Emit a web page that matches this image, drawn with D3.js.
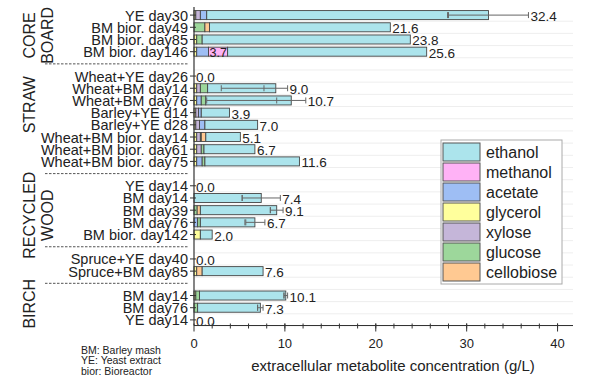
<!DOCTYPE html>
<html>
<head>
<meta charset="utf-8">
<title>Metabolite concentration</title>
<style>
  body { margin:0; background:#fff; }
  svg text { font-family: "Liberation Sans", Arial, sans-serif; fill:#222; }
</style>
</head>
<body>
<svg id="chart" width="592" height="388"></svg>
<script src="https://d3js.org/d3.v7.min.js"></script>
<script>
// categories, top to bottom
var categories = ["YE day30","BM bior. day49","BM bior. day85","BM bior. day146",
  "Wheat+YE day26","Wheat+BM day14","Wheat+BM day76","Barley+YE d14","Barley+YE d28",
  "Wheat+BM bior. day14","Wheat+BM bior. day61","Wheat+BM bior. day75",
  "YE day14","BM day14","BM day39","BM day76","BM bior. day142",
  "Spruce+YE day40","Spruce+BM day85",
  "BM day14","BM day76","YE day14"];
var groupSizes = [4, 8, 5, 2, 3];
var groupNames = [["CORE","BOARD"], ["STRAW"], ["RECYCLED","WOOD"], [], ["BIRCH"]];

// g/L
var glycerol   = [0.2,0,0.3,0.3, 0,0.3,0.3,0.2,0.2,0.3,0.3,0.3, 0,0,0,0,0.7, 0,0.3, 0.2,0,0];
var xylose     = [0.5,0,0,0, 0,0.4,0,0.3,0.4,0.4,0.5,0, 0,0,0,0,0, 0,0, 0,0,0];
var acetate    = [0.7,0,0,1.3, 0,0,0.5,0.3,0.6,0,0,0.6, 0,0,0,0.4,0, 0,0, 0,0,0];
var glucose    = [0,1.2,0.6,0, 0,0.8,0.5,0,0,0.1,0.3,0.3, 0,0,0.35,0.3,0, 0,0, 0.4,0.4,0];
var cellobiose = [0,0.5,0,0, 0,0,0,0,0,0.5,0,0, 0,0,0.35,0,0, 0,0.6, 0,0,0];
var methanol   = [0,0,0,2.1, 0,0,0,0,0,0,0,0, 0,0,0,0,0, 0,0, 0,0,0];
var ethanol    = [31.0,19.9,22.9,21.9, 0,7.5,9.4,3.1,5.8,3.8,5.6,10.4, 0,7.4,8.4,6.0,1.3, 0,6.7, 9.5,6.9,0];
var valueLabels = ["32.4","21.6","23.8","25.6","0.0","9.0","10.7","3.9","7.0","5.1","6.7","11.6",
  "0.0","7.4","9.1","6.7","2.0","0.0","7.6","10.1","7.3","0.0"];
var errLo = [27.9,null,null,null, null,3.0,1.4,null,null,null,null,null, null,5.3,8.4,5.7,null, null,null, 9.9,7.0,null];
var errHi = [36.8,null,null,null, null,10.3,12.3,null,null,null,null,null, null,9.5,9.8,7.8,null, null,null, 10.3,7.6,null];
var innerLabelRow = 3, innerLabel = "3.7";

var legendNames = ["ethanol","methanol","acetate","glycerol","xylose","glucose","cellobiose"];
var colors = {ethanol:"#ace4ec", methanol:"#ffb2f6", acetate:"#9ebef4", glycerol:"#ffff9c",
  xylose:"#c5b6d9", glucose:"#9dd79b", cellobiose:"#ffc992"};
var stackKeys = ["glycerol","xylose","acetate","glucose","cellobiose","methanol","ethanol"];
var xTicks = [0,10,20,30,40];

var svg = d3.select("#chart");
var x0 = 194, x1 = 573;

// build slots (rows + separator slots between groups)
var slots = [], rowSlot = [], sepSlots = [], groupRange = [];
var k = 0;
groupSizes.forEach(function(n, g) {
  if (g > 0) { sepSlots.push("sep" + g); slots.push("sep" + g); }
  var start = slots.length;
  for (var i = 0; i < n; i++) { rowSlot.push("r" + k); slots.push("r" + k); k++; }
  groupRange.push([start, slots.length - 1]);
});

var y = d3.scaleBand().domain(slots).range([9, 326]).paddingInner(0.26).paddingOuter(0.13);
var x = d3.scaleLinear().domain([0, 41.7]).range([x0, x1]);
var bh = y.bandwidth();
var yc = function(s) { return y(s) + bh / 2; };

var rows = categories.map(function(c, i) {
  return {cat:c, slot:rowSlot[i], glycerol:glycerol[i], xylose:xylose[i], acetate:acetate[i],
    glucose:glucose[i], cellobiose:cellobiose[i], methanol:methanol[i], ethanol:ethanol[i]};
});

// faint grid lines
svg.append("g").selectAll("line").data(slots).enter().append("line")
  .attr("x1", x0).attr("x2", x1)
  .attr("y1", function(s){ return y(s) + bh + (y.step() - bh) / 2; })
  .attr("y2", function(s){ return y(s) + bh + (y.step() - bh) / 2; })
  .attr("stroke", "#eeeeee").attr("stroke-width", 1);

// stacked bars
var series = d3.stack().keys(stackKeys)(rows);
svg.append("g").selectAll("g").data(series).enter().append("g")
  .attr("fill", function(s){ return colors[s.key]; })
  .selectAll("rect").data(function(s){ return s; }).enter()
  .filter(function(d){ return d[1] - d[0] > 0; })
  .append("rect")
  .attr("x", function(d){ return x(d[0]); })
  .attr("y", function(d){ return y(d.data.slot); })
  .attr("width", function(d){ return x(d[1]) - x(d[0]); })
  .attr("height", bh)
  .attr("stroke", "#444").attr("stroke-width", 0.9);

// error bars
var eb = svg.append("g").attr("stroke", "#666").attr("stroke-width", 1);
rows.forEach(function(r, i) {
  if (errLo[i] === null) return;
  var cy = yc(r.slot);
  var tot = d3.sum(stackKeys, function(key){ return r[key]; });
  var inner = tot - (errHi[i] - tot);
  eb.append("line").attr("x1", x(errLo[i])).attr("x2", x(errHi[i])).attr("y1", cy).attr("y2", cy);
  [errLo[i], errHi[i], inner].forEach(function(v) {
    eb.append("line").attr("x1", x(v)).attr("x2", x(v)).attr("y1", cy - 3).attr("y2", cy + 3);
  });
});

// value labels
svg.append("g").selectAll("text").data(rows).enter().append("text")
  .attr("x", function(d, i){
    var tot = d3.sum(stackKeys, function(key){ return d[key]; });
    var end = errHi[i] !== null ? Math.max(x(errHi[i]), x(tot)) : x(tot);
    return end + 2;
  })
  .attr("y", function(d){ return yc(d.slot) + 6; })
  .attr("font-size", 13.5)
  .text(function(d, i){ return valueLabels[i]; });

var ir = rows[innerLabelRow];
svg.append("text")
  .attr("x", x(ir.glycerol + ir.acetate) + 1)
  .attr("y", yc(ir.slot) + 5)
  .attr("font-size", 12.5).attr("fill", "#333")
  .text(innerLabel);

// y axis
svg.append("line").attr("x1", x0).attr("x2", x0).attr("y1", 7).attr("y2", 325.5)
  .attr("stroke", "#333").attr("stroke-width", 1.2);
svg.append("g").selectAll("line").data(rowSlot).enter().append("line")
  .attr("x1", x0 - 4).attr("x2", x0 + 2)
  .attr("y1", function(s){ return yc(s); }).attr("y2", function(s){ return yc(s); })
  .attr("stroke", "#333").attr("stroke-width", 1);
svg.append("g").selectAll("text").data(rows).enter().append("text")
  .attr("x", 188).attr("y", function(d){ return yc(d.slot) + 5.5; })
  .attr("text-anchor", "end").attr("font-size", 14.5)
  .text(function(d){ return d.cat; });

// dashed separators
svg.append("g").selectAll("line").data(sepSlots).enter().append("line")
  .attr("x1", 45).attr("x2", 189)
  .attr("y1", function(s){ return yc(s); }).attr("y2", function(s){ return yc(s); })
  .attr("stroke", "#555").attr("stroke-width", 1).attr("stroke-dasharray", "2.5,1.5");

// group labels (rotated)
var groupShift = [2, -14, 5, 0, -4];
groupNames.forEach(function(lines, g) {
  if (!lines.length) return;
  var r = groupRange[g];
  var cy = (yc(slots[r[0]]) + yc(slots[r[1]])) / 2 + groupShift[g];
  lines.forEach(function(t, j) {
    svg.append("text")
      .attr("transform", "translate(" + (35 + j * 18) + "," + cy + ") rotate(-90)")
      .attr("text-anchor", "middle").attr("font-size", 16)
      .text(t);
  });
});

// x axis
var xa = svg.append("g").attr("transform", "translate(0,325.5)");
xa.append("line").attr("x1", x0).attr("x2", x1).attr("stroke", "#333").attr("stroke-width", 1.2);
xa.selectAll(".minor").data(d3.range(2, 42, 2)).enter().append("line")
  .attr("x1", function(d){ return x(d); }).attr("x2", function(d){ return x(d); })
  .attr("y1", -2).attr("y2", 3).attr("stroke", "#333");
xa.selectAll(".major").data(xTicks).enter().append("line")
  .attr("x1", function(d){ return x(d); }).attr("x2", function(d){ return x(d); })
  .attr("y1", -2).attr("y2", 6).attr("stroke", "#333");
xa.selectAll("text").data(xTicks).enter().append("text")
  .attr("x", function(d){ return x(d); }).attr("y", 22)
  .attr("text-anchor", "middle").attr("font-size", 13)
  .text(function(d){ return d; });
svg.append("text").attr("x", 393).attr("y", 371).attr("text-anchor", "middle")
  .attr("font-size", 15).text("extracellular metabolite concentration (g/L)");

// footnote
var notes = ["BM: Barley mash", "YE: Yeast extract", "bior: Bioreactor"];
svg.append("g").selectAll("text").data(notes).enter().append("text")
  .attr("x", 81).attr("y", function(d, i){ return 354 + i * 10.3; })
  .attr("font-size", 10.5).text(function(d){ return d; });

// legend
var lg = svg.append("g");
lg.append("rect").attr("x", 441).attr("y", 140).attr("width", 121).attr("height", 144)
  .attr("fill", "#fff").attr("stroke", "#aaa");
var le = lg.selectAll("g").data(legendNames).enter().append("g")
  .attr("transform", function(d, i){ return "translate(443," + (143 + i * 20) + ")"; });
le.append("rect").attr("width", 37).attr("height", 18)
  .attr("fill", function(d){ return colors[d]; }).attr("stroke", "#555");
le.append("text").attr("x", 43).attr("y", 14.5).attr("font-size", 16)
  .text(function(d){ return d; });
</script>
</body>
</html>
